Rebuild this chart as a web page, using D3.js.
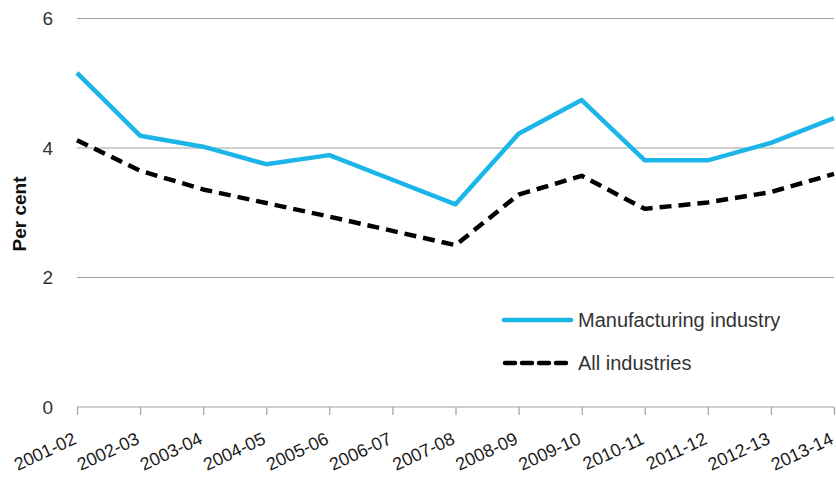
<!DOCTYPE html>
<html>
<head>
<meta charset="utf-8">
<script src="https://cdn.jsdelivr.net/npm/d3@7/dist/d3.min.js"></script>
<style>
  html, body { margin: 0; padding: 0; background: #fff; }
  svg { display: block; font-family: "Liberation Sans", Arial, sans-serif; }
</style>
</head>
<body>
<svg id="chart" width="836" height="477"></svg>
<script>
const categories = ["2001-02","2002-03","2003-04","2004-05","2005-06","2006-07","2007-08","2008-09","2009-10","2010-11","2011-12","2012-13","2013-14"];
const manufacturing = [5.16, 4.19, 4.02, 3.75, 3.89, 3.51, 3.13, 4.22, 4.74, 3.81, 3.81, 4.08, 4.46];
const allIndustries = [4.12, 3.65, 3.36, 3.15, 2.94, 2.72, 2.50, 3.28, 3.57, 3.06, 3.16, 3.32, 3.60];
const yTicks = [0, 2, 4, 6];
const seriesNames = ["Manufacturing industry", "All industries"];

const svg = d3.select("#chart");
const margin = { left: 77, right: 2 };
const W = 836;

const x = d3.scalePoint().domain(categories).range([margin.left, W - margin.right]);
const y = d3.scaleLinear().domain([0, 6]).range([407, 18.5]);

// gridlines
svg.append("g").selectAll("line").data(yTicks.filter(d => d > 0)).join("line")
  .attr("x1", margin.left).attr("x2", W - margin.right)
  .attr("y1", d => y(d)).attr("y2", d => y(d))
  .attr("stroke", "#a0a0a0").attr("stroke-width", 1.2);

// y tick labels
svg.append("g").selectAll("text").data(yTicks).join("text")
  .attr("x", 53).attr("y", d => y(d)).attr("dy", "0.35em")
  .attr("text-anchor", "end").attr("font-size", 19).attr("fill", "#333")
  .text(d => d);

// x axis
const xAxis = d3.axisBottom(x).tickSize(8).tickSizeOuter(0);
const gx = svg.append("g").attr("transform", `translate(0,${y(0)})`).call(xAxis);
gx.attr("font-size", null).attr("font-family", null);
gx.select(".domain").attr("stroke", "#a0a0a0").attr("stroke-width", 1.2).attr("d", `M${margin.left},0H${W - margin.right}`);
gx.selectAll(".tick line").attr("stroke", "#a0a0a0").attr("stroke-width", 1.2);
gx.selectAll(".tick text")
  .attr("font-size", 18).attr("fill", "#1a1a1a")
  .attr("text-anchor", "end")
  .attr("x", 0).attr("y", 0).attr("dy", 0)
  .attr("transform", "translate(0,36) rotate(-25)");

// y label
svg.append("text")
  .attr("transform", `translate(26,214) rotate(-90)`)
  .attr("text-anchor", "middle").attr("font-size", 19).attr("font-weight", "bold").attr("fill", "#111")
  .text("Per cent");

const line = d3.line().x((d, i) => x(categories[i])).y(d => y(d));

svg.append("path").datum(allIndustries)
  .attr("d", line).attr("fill", "none").attr("stroke", "#000")
  .attr("stroke-width", 4.5).attr("stroke-dasharray", "12,7").attr("stroke-linejoin", "round");

svg.append("path").datum(manufacturing)
  .attr("d", line).attr("fill", "none").attr("stroke", "#1cb5ea")
  .attr("stroke-width", 4.5).attr("stroke-linejoin", "round");

// legend
const leg = svg.append("g");
leg.append("line").attr("x1", 504).attr("x2", 571).attr("y1", 320).attr("y2", 320)
  .attr("stroke", "#1cb5ea").attr("stroke-width", 4.5).attr("stroke-linecap", "round");
leg.append("text").attr("x", 578).attr("y", 320).attr("dy", "0.35em")
  .attr("font-size", 20).attr("fill", "#333").text(seriesNames[0]);
leg.append("line").attr("x1", 505).attr("x2", 571).attr("y1", 363).attr("y2", 363)
  .attr("stroke", "#000").attr("stroke-width", 4.5).attr("stroke-dasharray", "10,7").attr("stroke-linecap", "round");
leg.append("text").attr("x", 578).attr("y", 363).attr("dy", "0.35em")
  .attr("font-size", 20).attr("fill", "#333").text(seriesNames[1]);
</script>
</body>
</html>
